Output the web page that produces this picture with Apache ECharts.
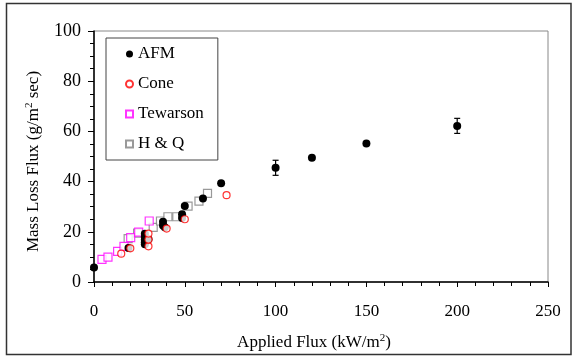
<!DOCTYPE html>
<html>
<head>
<meta charset="utf-8">
<script src="https://cdn.jsdelivr.net/npm/echarts@6/dist/echarts.min.js"></script>
<style>
  html, body { margin: 0; padding: 0; background: #fff; }
  #chart { width: 577px; height: 358px; }
</style>
</head>
<body>
<div id="chart"></div>
<script>
// AFM measurements
const afmData = [
  [0, 5.8], [19, 13.5], [28, 19.2], [28, 18], [28, 16.8], [28, 15.8], [28, 15],
  [30, 17], [38, 24], [38, 22.5], [39, 21.8], [48.5, 27], [48.5, 25.5], [50, 30.3],
  [60, 33.3], [70, 39.3], [100, 45.5], [120, 49.5], [150, 55.2], [200, 62.2]
];
// error bars on two AFM points
const errX = [100, 200];
const errLo = [42.5, 59.2];
const errHi = [48.5, 65.2];

const coneData = [
  [15, 11.3], [20, 13.4], [30, 14.2], [30, 16.9], [30, 19.3], [40, 21.3], [50, 25], [73, 34.6]
];
const tewarsonData = [
  [4.4, 9], [7.7, 9.9], [13, 12.2], [16.5, 14.2], [20.2, 17.7], [24.6, 19.9], [30.4, 24.3]
];
const hqData = [
  [18.8, 17.3], [24, 19.5], [32.6, 21.8], [36.6, 24.3], [40.7, 26], [45.6, 26],
  [51.8, 30.2], [57.8, 32.2], [62.5, 35.3]
];

const font = 'Liberation Serif';
const chart = echarts.init(document.getElementById('chart'));

chart.setOption({
  animation: false,
  backgroundColor: '#fff',
  textStyle: { fontFamily: font, color: '#000' },
  graphic: [{
    type: 'rect',
    shape: { x: 6.5, y: 3.5, width: 564.5, height: 351 },
    style: { fill: 'none', stroke: '#333', lineWidth: 1.5 },
    silent: true
  }],
  grid: {
    left: 94, right: 29, top: 31, bottom: 76,
    show: true, borderColor: '#888', borderWidth: 1
  },
  legend: {
    orient: 'vertical',
    left: 106, top: 38,
    padding: [6, 14, 6, 19],
    itemGap: 10,
    itemWidth: 7, itemHeight: 7,
    borderColor: '#444', borderWidth: 1,
    textStyle: { fontFamily: font, fontSize: 17, color: '#000', lineHeight: 20 },
    data: ['AFM', 'Cone', 'Tewarson', 'H & Q']
  },
  xAxis: {
    type: 'value', min: 0, max: 250, interval: 50,
    name: 'Applied Flux (kW/m{sup|2})',
    nameLocation: 'middle', nameGap: 51,
    nameTextStyle: {
      fontFamily: font, fontSize: 17, color: '#000', padding: [0, 14, 0, 0],
      rich: { sup: { fontFamily: font, fontSize: 11, verticalAlign: 'top', padding: [0, 0, 8, 0] } }
    },
    axisLine: { show: true, lineStyle: { color: '#000', width: 1.5 } },
    axisTick: { show: true, length: 5, lineStyle: { color: '#000', width: 1 } },
    minorTick: { show: true, splitNumber: 5, length: 4, lineStyle: { color: '#000' } },
    axisLabel: { fontFamily: font, fontSize: 17, color: '#000', margin: 21 },
    splitLine: { show: false }
  },
  yAxis: {
    type: 'value', min: 0, max: 100, interval: 20,
    name: 'Mass Loss Flux (g/m{sup|2} sec)',
    nameLocation: 'middle', nameGap: 51, nameRotate: 90,
    nameTextStyle: {
      fontFamily: font, fontSize: 17, color: '#000', padding: [0, 10, 0, 0],
      rich: { sup: { fontFamily: font, fontSize: 11, verticalAlign: 'top', padding: [0, 0, 8, 0] } }
    },
    axisLine: { show: true, lineStyle: { color: '#000', width: 1.5 } },
    axisTick: { show: true, length: 6, lineStyle: { color: '#000', width: 1 } },
    minorTick: { show: true, splitNumber: 4, length: 4, lineStyle: { color: '#000' } },
    axisLabel: { fontFamily: font, fontSize: 18, color: '#000', margin: 13 },
    splitLine: { show: false }
  },
  series: [
    {
      name: 'H & Q', type: 'scatter', symbol: 'rect', symbolSize: 8,
      itemStyle: { color: '#fff', borderColor: '#808080', borderWidth: 1.2 },
      data: hqData
    },
    {
      name: 'Tewarson', type: 'scatter', symbol: 'rect', symbolSize: 8,
      itemStyle: { color: '#fff', borderColor: '#ff00ff', borderWidth: 1.2 },
      data: tewarsonData
    },
    {
      name: 'AFM', type: 'scatter', symbol: 'circle', symbolSize: 8,
      itemStyle: { color: '#000', opacity: 1 },
      data: afmData
    },
    {
      name: 'errors', type: 'custom',
      data: errX.map((x, i) => [x, errLo[i], errHi[i]]),
      renderItem: function (params, api) {
        const lo = api.coord([api.value(0), api.value(1)]);
        const hi = api.coord([api.value(0), api.value(2)]);
        const w = 3;
        const st = { stroke: '#000', lineWidth: 1.2 };
        return {
          type: 'group',
          children: [
            { type: 'line', shape: { x1: lo[0], y1: lo[1], x2: hi[0], y2: hi[1] }, style: st },
            { type: 'line', shape: { x1: lo[0] - w, y1: lo[1], x2: lo[0] + w, y2: lo[1] }, style: st },
            { type: 'line', shape: { x1: hi[0] - w, y1: hi[1], x2: hi[0] + w, y2: hi[1] }, style: st }
          ]
        };
      }
    },
    {
      name: 'Cone', type: 'scatter', symbol: 'circle', symbolSize: 7,
      itemStyle: { color: '#fff', borderColor: '#ff0000', borderWidth: 1.2 },
      data: coneData
    }
  ]
});
</script>
</body>
</html>
